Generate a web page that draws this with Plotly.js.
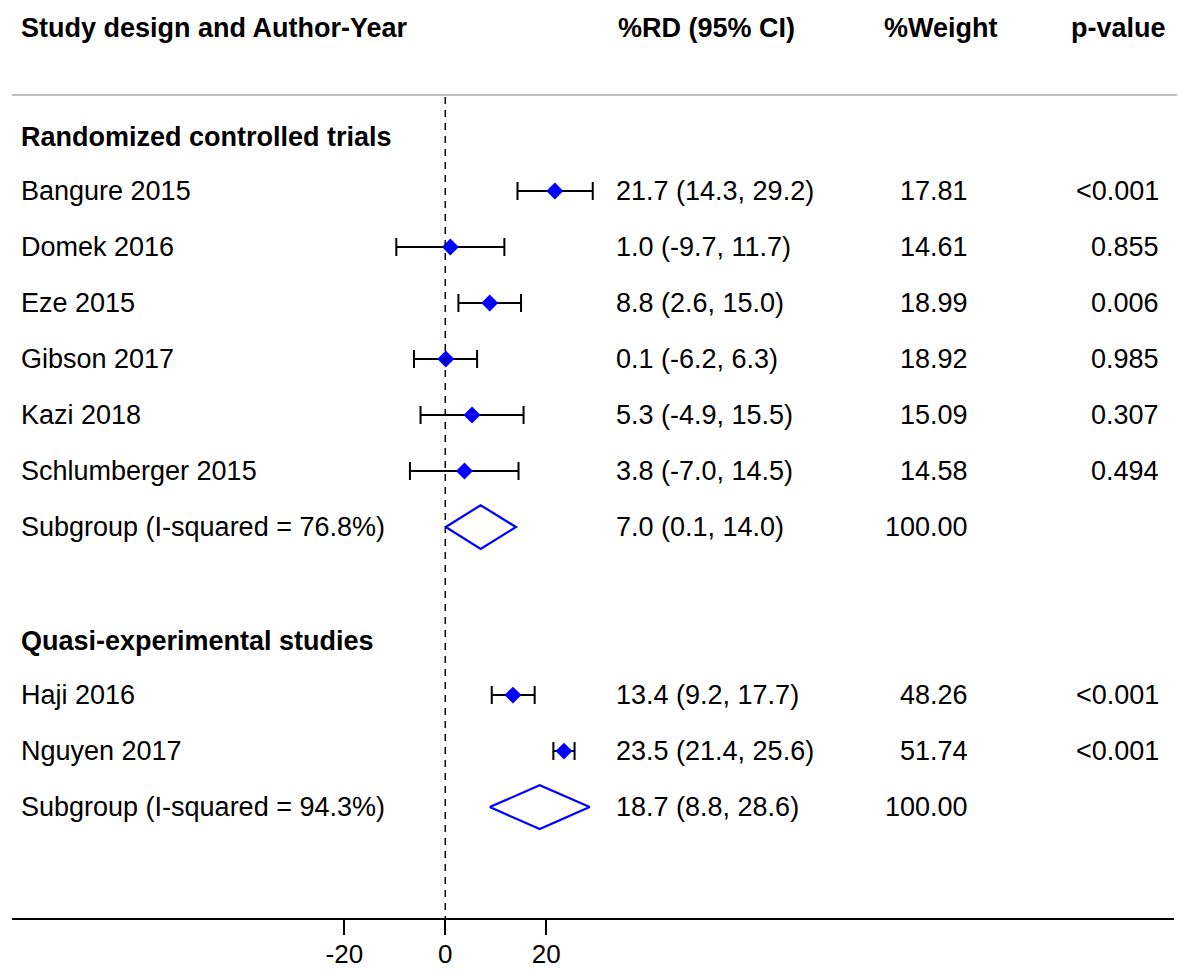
<!DOCTYPE html>
<html>
<head>
<meta charset="utf-8">
<script src="https://cdn.plot.ly/plotly-3.0.1.min.js"></script>
<style>html,body{margin:0;padding:0;background:#fff;}#chart{width:1178px;height:969px;}</style>
</head>
<body>
<div id="chart"></div>
<script>
// ---- data ----
const studies = ["Bangure 2015","Domek 2016","Eze 2015","Gibson 2017","Kazi 2018","Schlumberger 2015","Haji 2016","Nguyen 2017"];
const rd      = [21.7, 1.0, 8.8, 0.1, 5.3, 3.8, 13.4, 23.5];
const ciLow   = [14.3, -9.7, 2.6, -6.2, -4.9, -7.0, 9.2, 21.4];
const ciHigh  = [29.2, 11.7, 15.0, 6.3, 15.5, 14.5, 17.7, 25.6];
const weights = ["17.81","14.61","18.99","18.92","15.09","14.58","48.26","51.74"];
const pvalues = ["<0.001","0.855","0.006","0.985","0.307","0.494","<0.001","<0.001"];
const studyRows = [2,3,4,5,6,7,11,12];

const groupNames = ["Randomized controlled trials","Quasi-experimental studies"];
const groupRows = [1,10];

const subLabels = ["Subgroup (I-squared = 76.8%)","Subgroup (I-squared = 94.3%)"];
const subRd     = [7.0, 18.7];
const subLow    = [0.1, 8.8];
const subHigh   = [14.0, 28.6];
const subWeight = ["100.00","100.00"];
const subRows   = [8,13];

const headers = ["Study design and Author-Year","%RD (95% CI)","%Weight","p-value"];
const tickVals = [-20, 0, 20];

// ---- layout helpers ----
const FONT = "Liberation Sans, Arial, sans-serif";
const FS = 27;
const fmt = v => v.toFixed(1);
const px2paper = px => (px - 12) / 1162;

const traces = [];
// study estimates with CI
traces.push({
  type: "scatter", mode: "markers",
  x: rd, y: studyRows,
  marker: {symbol: "diamond", size: 13, color: "#0000ff"},
  error_x: {
    type: "data", symmetric: false,
    array: rd.map((v,i) => ciHigh[i] - v),
    arrayminus: rd.map((v,i) => v - ciLow[i]),
    color: "#000", thickness: 2, width: 9
  },
  hoverinfo: "skip", showlegend: false
});
// subgroup diamonds
subRd.forEach((v,i) => {
  const r = subRows[i], h = 0.39;
  traces.push({
    type: "scatter", mode: "lines",
    x: [subLow[i], v, subHigh[i], v, subLow[i]],
    y: [r, r - h, r, r + h, r],
    line: {color: "#0000ff", width: 2.2},
    hoverinfo: "skip", showlegend: false
  });
});

const ann = [];
const add = (text, xp, xanchor, y, bold) => ann.push({
  text: bold ? "<b>" + text + "</b>" : text,
  xref: "paper", x: px2paper(xanchor === "left" ? xp - 3 : xp + 3), xanchor: xanchor,
  yref: "y", y: y, yanchor: "middle",
  showarrow: false, font: {family: FONT, size: FS, color: "#000"}
});
// headers
const headerY = -0.91;
add(headers[0], 22, "left", headerY, true);
add(headers[1], 619, "left", headerY, true);
add(headers[2], 997, "right", headerY, true);
add(headers[3], 1165, "right", headerY, true);
// group names
groupRows.forEach((r,i) => add(groupNames[i], 22, "left", r + 0.04, true));
// studies
studies.forEach((s,i) => {
  const r = studyRows[i];
  add(s, 22, "left", r);
  add(fmt(rd[i]) + " (" + fmt(ciLow[i]) + ", " + fmt(ciHigh[i]) + ")", 617, "left", r);
  add(weights[i], 967, "right", r);
  add(pvalues[i], 1158, "right", r);
});
// subgroups
subLabels.forEach((s,i) => {
  const r = subRows[i];
  add(s, 22, "left", r);
  add(fmt(subRd[i]) + " (" + fmt(subLow[i]) + ", " + fmt(subHigh[i]) + ")", 617, "left", r);
  add(subWeight[i], 967, "right", r);
});

const yBottom = 14.98, yTop = -1.41;

const layout = {
  width: 1178, height: 969,
  margin: {l: 12, r: 4, t: 0, b: 51, pad: 0},
  paper_bgcolor: "#fff", plot_bgcolor: "#fff",
  showlegend: false,
  xaxis: {
    range: [-85.8, 144.3], showgrid: false, zeroline: false,
    showline: true, linecolor: "#000", linewidth: 2,
    ticks: "outside", ticklen: 15, tickwidth: 2, tickcolor: "#000",
    ticklabelstandoff: -3,
    tickmode: "array", tickvals: tickVals, ticktext: tickVals.map(String),
    tickfont: {family: FONT, size: 26, color: "#000"},
    fixedrange: true
  },
  yaxis: {
    range: [yBottom, yTop], showgrid: false, zeroline: false,
    showline: false, showticklabels: false, ticks: "", fixedrange: true
  },
  shapes: [
    {type: "line", xref: "paper", x0: 0, x1: 1.0026, yref: "y", y0: 0.286, y1: 0.286,
     line: {color: "#c0c0c0", width: 2}},
    {type: "line", xref: "x", x0: 0, x1: 0, yref: "y", y0: 0.32, y1: yBottom,
     line: {color: "#000", width: 1.5, dash: "7px,6px"}}
  ],
  annotations: ann,
  font: {family: FONT, size: FS, color: "#000"}
};

Plotly.newPlot("chart", traces, layout, {staticPlot: true, displayModeBar: false});
</script>
</body>
</html>
